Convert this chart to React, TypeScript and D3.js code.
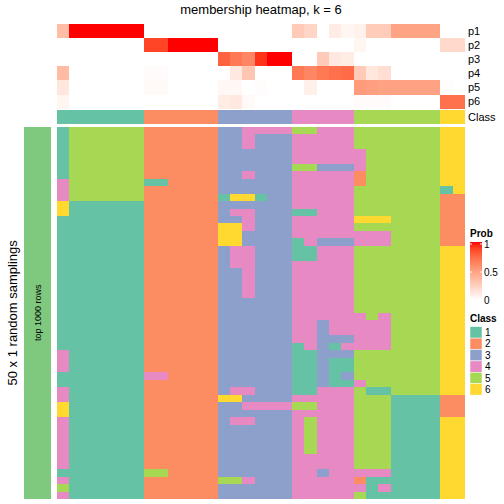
import React from 'react';
import * as d3 from 'd3';

// ---------- data ----------
const classLabels = ['1', '2', '3', '4', '5', '6'];
const classColors = ['#66C2A5', '#FC8D62', '#8DA0CB', '#E78AC3', '#A6D854', '#FFD92F'];
const probNames = ['p1', 'p2', 'p3', 'p4', 'p5', 'p6'];
const probTicks = [0, 0.5, 1];

// class of each of the 33 columns (samples)
const columnClass = [1, 1, 1, 1, 1, 1, 1, 2, 2, 2, 2, 2, 2, 3, 3, 3, 3, 3, 3, 4, 4, 4, 4, 4, 5, 5, 5, 5, 5, 5, 5, 6, 6];

// membership probability per column
const p1 = [0.35, 1, 1, 1, 1, 1, 1, 0, 0, 0, 0, 0, 0, 0, 0, 0, 0, 0, 0, 0.28, 0.22, 0, 0.1, 0.05, 0.07, 0.27, 0.27, 0.48, 0.48, 0.48, 0.48, 0, 0];
const p2 = [0, 0, 0, 0, 0, 0, 0, 0.88, 0.88, 1, 1, 1, 1, 0, 0, 0, 0, 0, 0, 0, 0, 0, 0, 0, 0.05, 0, 0, 0, 0, 0, 0, 0.2, 0.2];
const p3 = [0, 0, 0, 0, 0, 0, 0, 0, 0, 0, 0, 0, 0, 0.78, 0.68, 0.62, 0.93, 1, 1, 0, 0, 0.28, 0.12, 0.1, 0, 0, 0, 0, 0, 0, 0, 0, 0];
const p4 = [0.36, 0, 0, 0, 0, 0, 0, 0.02, 0.02, 0, 0, 0, 0, 0, 0.12, 0.3, 0, 0, 0, 0.68, 0.62, 0.68, 0.72, 0.74, 0.28, 0.13, 0.17, 0, 0, 0, 0, 0, 0];
const p5 = [0.13, 0, 0, 0, 0, 0, 0, 0.03, 0.03, 0, 0, 0, 0, 0.04, 0.04, 0, 0.01, 0, 0, 0, 0.08, 0, 0, 0, 0.52, 0.5, 0.49, 0.49, 0.49, 0.49, 0.49, 0.01, 0];
const p6 = [0.05, 0, 0, 0, 0, 0, 0, 0, 0, 0, 0, 0, 0, 0.1, 0.12, 0.03, 0, 0, 0, 0, 0, 0, 0, 0, 0.02, 0.02, 0.02, 0, 0, 0, 0, 0.72, 0.72];

// class assigned in each of 50 random samplings (rows) for 33 columns
const samplingRows = [
  '1 555555 22 2222 334444 55444 555 5555 66',
  '1 555555 22 2222 334333 44444 555 5555 66',
  '1 555555 22 2222 334333 44444 555 5555 66',
  '1 555555 22 2222 333333 44444 455 5555 66',
  '1 555555 22 2222 333333 44444 455 5555 66',
  '1 555555 22 2222 333333 55333 455 5555 66',
  '1 555555 22 2222 334333 44444 255 5555 66',
  '4 555555 11 2222 333333 44444 255 5555 66',
  '4 555555 22 2222 333333 44444 555 5555 16',
  '4 555555 22 2222 166133 44444 555 5555 22',
  '6 111111 22 2222 333333 44444 555 5555 22',
  '6 111111 22 2222 344333 11444 555 5555 22',
  '1 111111 22 2222 334333 44444 666 5555 22',
  '1 111111 22 2222 664333 44444 555 5555 22',
  '1 111111 22 2222 663333 44444 444 5555 22',
  '1 111111 22 2222 663333 14333 444 5555 22',
  '1 111111 22 2222 344333 11444 555 5555 66',
  '1 111111 22 2222 344333 11444 555 5555 66',
  '1 111111 22 2222 344333 44444 555 5555 66',
  '1 111111 22 2222 334333 44444 555 5555 66',
  '1 111111 22 2222 334333 44444 555 5555 66',
  '1 111111 22 2222 334333 44444 555 5555 66',
  '1 111111 22 2222 334333 44444 555 5555 66',
  '1 111111 22 2222 333333 44444 555 5555 66',
  '1 111111 22 2222 333333 44444 555 5555 66',
  '1 111111 22 2222 333333 44444 454 5555 66',
  '1 111111 22 2222 333333 44344 444 5555 66',
  '1 111111 22 2222 333333 44344 444 5555 66',
  '1 111111 22 2222 333333 44333 444 5555 66',
  '1 111111 22 2222 333333 14314 444 5555 66',
  '4 111111 22 2222 333333 11333 555 5555 66',
  '4 111111 22 2222 333333 11311 555 5555 66',
  '4 111111 22 2222 333333 11311 555 5555 66',
  '1 111111 44 2222 333333 11313 555 5555 66',
  '1 111111 22 2222 333333 11311 455 5555 66',
  '4 111111 22 2222 344333 11444 511 5555 66',
  '4 111111 22 2222 663333 44444 555 1111 22',
  '6 111111 22 2222 334444 55444 555 1111 22',
  '6 111111 22 2222 333333 44444 555 1111 22',
  '4 111111 22 2222 344333 45444 555 1111 66',
  '4 111111 22 2222 333333 45444 555 1111 66',
  '4 111111 22 2222 333333 45444 555 1111 66',
  '4 111111 22 2222 333333 45444 555 1111 66',
  '4 111111 22 2222 333333 45444 555 1111 66',
  '4 111111 22 2222 333333 44444 555 1111 66',
  '4 111111 22 2222 333333 44444 555 1111 66',
  '1 111111 55 2222 333333 44344 444 1111 66',
  '4 111111 22 2222 554333 44444 211 1111 66',
  '5 111111 22 2222 333333 44444 414 1111 66',
  '4 111111 22 2222 333333 44444 511 1111 66',
];

const FONT = '"Liberation Sans", Arial, Helvetica, sans-serif';

export default function App() {
  const W = 504;
  const H = 504;
  const bodyLeft = 57;
  const bodyRight = 465;
  const bodyTop = 126.7;
  const bodyBottom = 499;

  const nCols = columnClass.length;
  const grid = samplingRows.map((s) => s.replace(/ /g, '').split('').map(Number));

  const x = d3.scaleBand<number>().domain(d3.range(nCols)).range([bodyLeft, bodyRight]);
  const y = d3.scaleBand<number>().domain(d3.range(grid.length)).range([bodyTop, bodyBottom]);
  const yAnno = d3.scaleBand<number>().domain(d3.range(probNames.length)).range([24, 108.7]);
  const classRowTop = 110;
  const classRowBottom = 123.7;

  const probs = [p1, p2, p3, p4, p5, p6];
  const probColor = d3
    .scaleLinear<string>()
    .domain([0, 1])
    .range(['#ffffff', '#ff0000'])
    .interpolate(d3.interpolateLab);
  const classColor = d3.scaleOrdinal<string, string>().domain(classLabels).range(classColors);

  // legend scales
  const legX = 470;
  const legW = 12;
  const probLegend = d3.scaleLinear().domain([0, 1]).range([300, 244]);
  const gradStops = d3.range(0, 1.0001, 0.1);
  const classLegTop = 326.7;
  const classLegY = d3
    .scaleBand<string>()
    .domain(classLabels)
    .range([classLegTop, classLegTop + 6 * 11.4]);

  const bodyMidY = (bodyTop + bodyBottom) / 2;

  return (
    <svg
      width={W}
      height={H}
      style={{ position: 'absolute', left: 0, top: 0, background: '#fff' }}
      fontFamily={FONT}
    >
      <defs>
        <linearGradient id="probGrad" x1="0" y1="1" x2="0" y2="0">
          {gradStops.map((t) => (
            <stop key={t} offset={t} stopColor={probColor(t)} />
          ))}
        </linearGradient>
      </defs>
      <rect x={0} y={0} width={W} height={H} fill="#fff" />

      {/* title */}
      <text x={(bodyLeft + bodyRight) / 2} y={14} textAnchor="middle" fontSize={13} fill="#000">
        membership heatmap, k = 6
      </text>

      {/* probability annotations */}
      <g shapeRendering="crispEdges">
        {probs.map((row, r) =>
          row.map((v, c) => (
            <rect
              key={`p${r}-${c}`}
              x={x(c)}
              y={yAnno(r)}
              width={x.bandwidth()}
              height={yAnno.bandwidth()}
              fill={probColor(v)}
            />
          ))
        )}
        {columnClass.map((k, c) => (
          <rect
            key={`cl${c}`}
            x={x(c)}
            y={classRowTop}
            width={x.bandwidth()}
            height={classRowBottom - classRowTop}
            fill={classColor(String(k))}
          />
        ))}
      </g>
      {probNames.map((n, r) => (
        <text
          key={n}
          x={468}
          y={(yAnno(r) as number) + yAnno.bandwidth() / 2}
          dy="0.35em"
          fontSize={11}
          fill="#000"
        >
          {n}
        </text>
      ))}
      <text x={468} y={(classRowTop + classRowBottom) / 2} dy="0.35em" fontSize={11} fill="#000">
        Class
      </text>

      {/* body */}
      <g shapeRendering="crispEdges">
        {grid.map((row, r) =>
          row.map((k, c) => (
            <rect
              key={`b${r}-${c}`}
              x={x(c)}
              y={y(r)}
              width={x.bandwidth()}
              height={y.bandwidth()}
              fill={classColor(String(k))}
            />
          ))
        )}
      </g>

      {/* left block annotation */}
      <rect x={24} y={bodyTop} width={27} height={bodyBottom - bodyTop} fill="#7FC97F" shapeRendering="crispEdges" />
      <text
        transform={`translate(${37.5},${bodyMidY}) rotate(-90)`}
        textAnchor="middle"
        dy="0.35em"
        fontSize={9}
        fill="#000"
      >
        top 1000 rows
      </text>
      <text
        transform={`translate(${12},${bodyMidY}) rotate(-90)`}
        textAnchor="middle"
        dy="0.35em"
        fontSize={13}
        fill="#000"
      >
        50 x 1 random samplings
      </text>

      {/* Prob legend */}
      <text x={legX} y={237} fontSize={10} fontWeight="bold" fill="#000">
        Prob
      </text>
      <rect x={legX} y={242} width={legW} height={58} fill="url(#probGrad)" />
      {probTicks.map((t) => (
        <g key={`t${t}`}>
          {t > 0 && t < 1 || t === 1 ? (
            <>
              <line x1={legX} x2={legX + 2} y1={probLegend(t)} y2={probLegend(t)} stroke="#fff" strokeWidth={1} />
              <line x1={legX + legW - 2} x2={legX + legW} y1={probLegend(t)} y2={probLegend(t)} stroke="#fff" strokeWidth={1} />
            </>
          ) : null}
          <text x={legX + legW + 2} y={probLegend(t)} dy="0.35em" fontSize={10} fill="#000">
            {String(t)}
          </text>
        </g>
      ))}

      {/* Class legend */}
      <text x={legX} y={322} fontSize={10} fontWeight="bold" fill="#000">
        Class
      </text>
      {classLabels.map((k) => (
        <g key={`lg${k}`}>
          <rect
            x={legX}
            y={classLegY(k)}
            width={legW}
            height={classLegY.bandwidth()}
            fill={classColor(k)}
            stroke="#fff"
            strokeWidth={0.5}
          />
          <text
            x={legX + legW + 3}
            y={(classLegY(k) as number) + classLegY.bandwidth() / 2}
            dy="0.35em"
            fontSize={10}
            fill="#000"
          >
            {k}
          </text>
        </g>
      ))}
    </svg>
  );
}
